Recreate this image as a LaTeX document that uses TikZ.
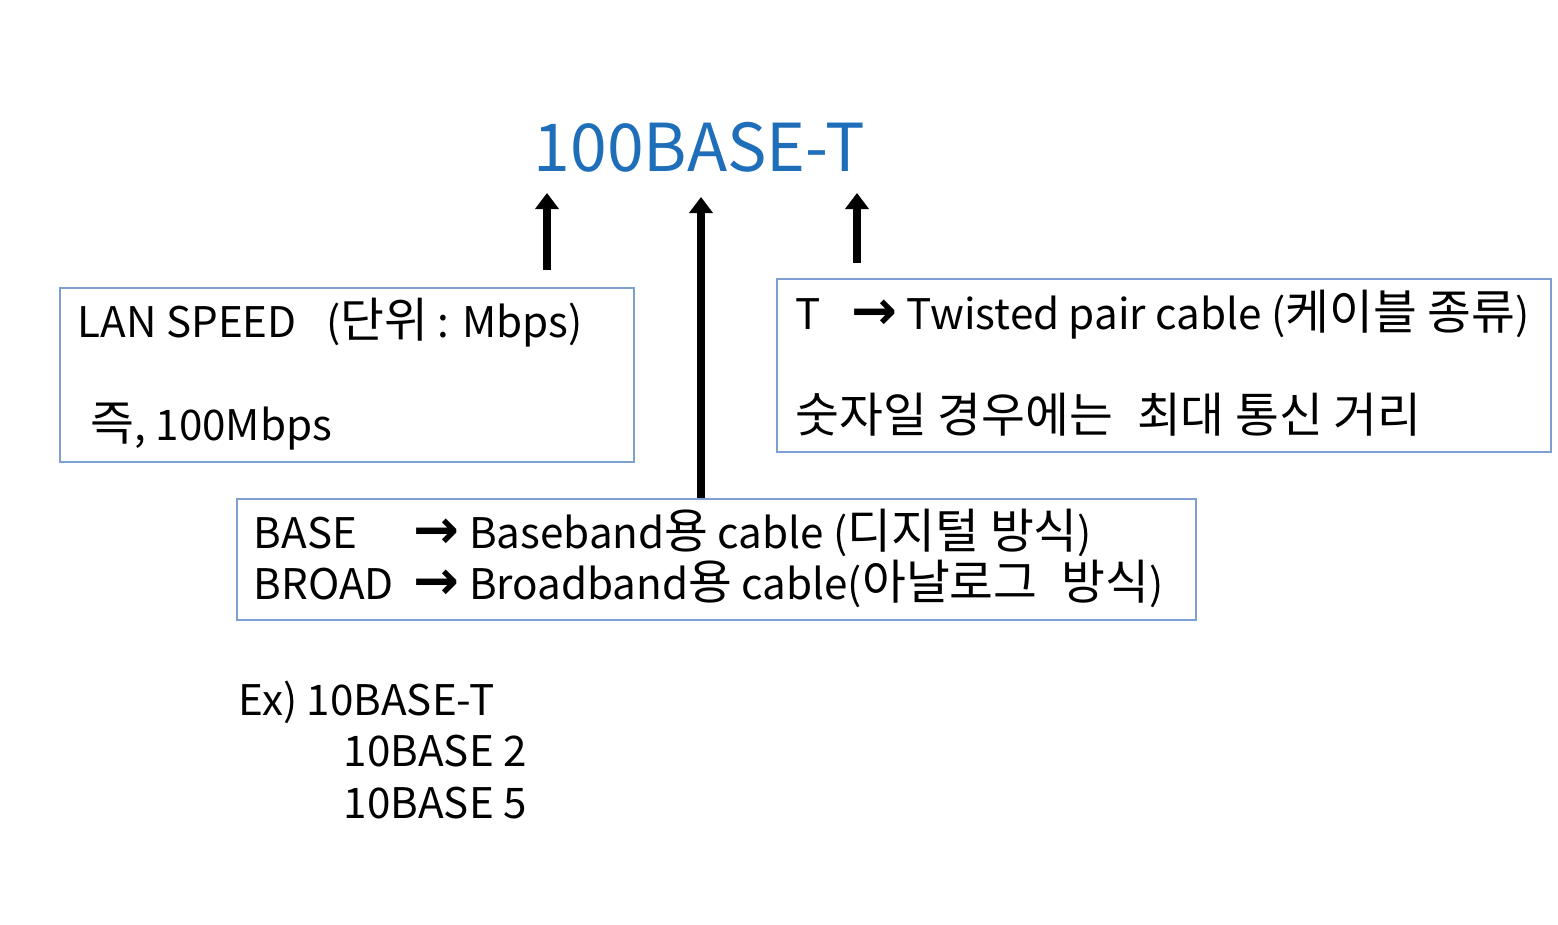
\documentclass[tikz,border=0pt]{standalone}
\usepackage{fontspec}
\setmainfont{Noto Sans CJK KR}
\newfontfamily\kor[Scale=1.13]{Noto Sans CJK KR}
\newfontfamily\arw[Scale=1.3]{DejaVu Sans}
\usepackage{xcolor}
\usepackage{tikz}
\usetikzlibrary{arrows.meta,positioning,calc}
\definecolor{titleblue}{RGB}{30,110,185}
\definecolor{boxblue}{RGB}{125,160,210}
\newcommand{\ko}[1]{{\kor #1}}
\newcommand{\ra}{{\arw\bfseries →}}

\begin{document}
\begin{tikzpicture}[
    txt/.style={anchor=base west, inner sep=0pt, font=\fontsize{12}{14}\selectfont},
    box/.style={draw=boxblue, line width=0.6pt, anchor=north west, inner sep=0pt},
    uparrow/.style={line width=2.3pt, -{Triangle[length=4.6pt,width=6.6pt]}}
]
    \useasboundingbox (0,0) rectangle (15.58,9.25);

    % Title
    \node[txt, font=\fontsize{18.8}{22}\selectfont, text=titleblue] (title) at (5.33,7.53) {100BASE-T};

    % Boxes
    \node[box, minimum width=5.74cm, minimum height=1.74cm] (speed) at (0.59,6.38) {};
    \node[box, minimum width=7.74cm, minimum height=1.73cm] (kind) at (7.76,6.47) {};
    \node[box, minimum width=9.59cm, minimum height=1.21cm] (band) at (2.36,4.27) {};

    % LAN speed text
    \node[txt] (speedA) at (0.77,5.87) {LAN SPEED\hspace{0.7em}(\ko{단위} : Mbps)};
    \node[txt] (speedB) at (0.90,4.84) {\ko{즉}, 100Mbps};

    % Cable type text
    \node[txt] (kindA) at (7.95,5.95) {T\enspace\ \ra\ Twisted pair cable (\ko{케이블 종류})};
    \node[txt] (kindB) at (7.95,4.92) {\ko{숫자일 경우에는\enspace 최대 통신 거리}};

    % Baseband / broadband text
    \node[txt] (baseA) at (2.53,3.76) {BASE};
    \node[txt] (baseB) at (4.13,3.76) {\ra\ Baseband\ko{용} cable (\ko{디지털 방식})};
    \node[txt] (broadA) at (2.53,3.25) {BROAD};
    \node[txt] (broadB) at (4.13,3.25) {\ra\ Broadband\ko{용} cable(\ko{아날로그\enspace 방식})};

    % Examples
    \node[txt] (ex) at (2.38,2.09) {Ex) 10BASE-T};
    \node[txt] (exB) at (3.43,1.58) {10BASE 2};
    \node[txt] (exC) at (3.43,1.06) {10BASE 5};

    % Arrow ends
    \coordinate (speedTop) at (5.47,6.55);
    \coordinate (speedTip) at (5.47,7.32);
    \coordinate (bandTip) at (7.01,7.28);
    \coordinate (kindTop) at (8.57,6.62);
    \coordinate (kindTip) at (8.57,7.32);

    % Arrows
    \draw[uparrow] (speedTop) -- (speedTip);
    \draw[uparrow] (band.north -| bandTip) -- (bandTip);
    \draw[uparrow] (kindTop) -- (kindTip);
\end{tikzpicture}
\end{document}
